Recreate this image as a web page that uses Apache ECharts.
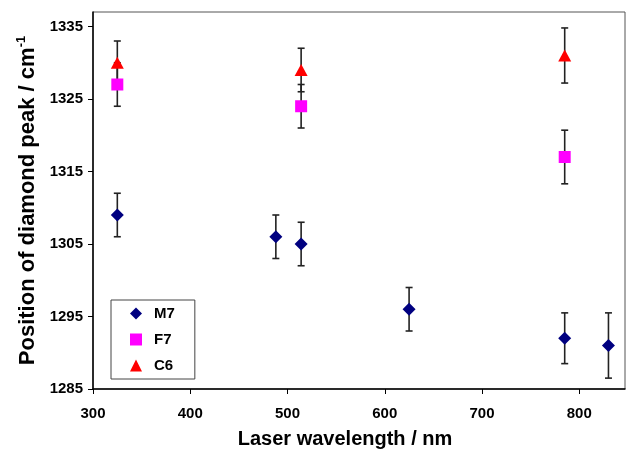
<!DOCTYPE html>
<html>
<head>
<meta charset="utf-8">
<script src="https://cdn.jsdelivr.net/npm/echarts@6/dist/echarts.min.js"></script>
<style>html,body{margin:0;padding:0;background:#fff}#c{width:628px;height:450px}</style>
</head>
<body>
<div id="c"></div>
<script>
// Data
var m7X = [325, 488, 514, 625, 785, 830];
var m7Y = [1309, 1306, 1305, 1296, 1292, 1291];
var m7Err = [3, 3, 3, 3, 3.5, 4.5];
var f7X = [325, 514, 785];
var f7Y = [1327, 1324, 1317];
var f7Err = [3, 3, 3.7];
var c6X = [325, 514, 785];
var c6Y = [1330, 1329, 1331];
var c6Err = [3, 3, 3.8];
var xTicks = [300, 400, 500, 600, 700, 800];
var yTicks = [1285, 1295, 1305, 1315, 1325, 1335];

function pts(xs, ys) { return xs.map(function (x, i) { return [x, ys[i]]; }); }
function errPts(xs, ys, es) { return xs.map(function (x, i) { return [x, ys[i] - es[i], ys[i] + es[i]]; }); }

var errData = [].concat(errPts(m7X, m7Y, m7Err), errPts(f7X, f7Y, f7Err), errPts(c6X, c6Y, c6Err));

var chart = echarts.init(document.getElementById('c'), null, {renderer: 'canvas'});
var FONT = 'Liberation Sans, Arial, sans-serif';
chart.setOption({
  animation: false,
  backgroundColor: '#fff',
  grid: {left: 93, right: 3, top: 12, bottom: 61, containLabel: false, outerBoundsMode: 'none',
    show: true, borderColor: '#555', borderWidth: 1, backgroundColor: 'transparent'},
  legend: {
    orient: 'vertical', left: 111, top: 300,
    padding: [6, 20, 6, 19], itemWidth: 12, itemHeight: 12, itemGap: 11,
    borderColor: '#444', borderWidth: 1,
    textStyle: {fontFamily: FONT, fontWeight: 'bold', fontSize: 15, color: '#000', padding: [0, 0, 0, 7]},
    data: ['M7', 'F7', 'C6']
  },
  xAxis: {
    type: 'value', min: 300, max: 847, interval: 100,
    name: 'Laser wavelength / nm', nameLocation: 'middle', nameGap: 40,
    nameTextStyle: {fontFamily: FONT, fontWeight: 'bold', fontSize: 20, color: '#000', padding: [0, 28, 0, 0]},
    axisLine: {lineStyle: {color: '#000', width: 1.5}},
    axisTick: {length: 5, lineStyle: {color: '#000'}},
    axisLabel: {fontFamily: FONT, fontWeight: 'bold', fontSize: 15, color: '#000', margin: 17, showMaxLabel: false,
      formatter: function (v) { return xTicks.indexOf(v) >= 0 ? String(v) : ''; }},
    splitLine: {show: false}
  },
  yAxis: {
    type: 'value', min: 1285, max: 1337, interval: 10,
    name: '{a|Position of diamond peak / cm}{s|-1}', nameLocation: 'middle', nameGap: 52,
    nameTextStyle: {fontFamily: FONT, fontWeight: 'bold', fontSize: 22, color: '#000',
      rich: {a: {fontFamily: FONT, fontWeight: 'bold', fontSize: 22, color: '#000'},
             s: {fontFamily: FONT, fontWeight: 'bold', fontSize: 13, color: '#000', verticalAlign: 'top', padding: [0, 0, 12, 0]}}},
    axisLine: {show: true, lineStyle: {color: '#000', width: 1.5}},
    axisTick: {show: true, length: 5, lineStyle: {color: '#000'}},
    axisLabel: {fontFamily: FONT, fontWeight: 'bold', fontSize: 15, color: '#000', margin: 10, showMaxLabel: false,
      formatter: function (v) { return yTicks.indexOf(v) >= 0 ? String(v) : ''; }},
    splitLine: {show: false}
  },
  series: [
    {
      type: 'custom', name: 'err', z: 1, silent: true,
      data: errData,
      renderItem: function (params, api) {
        var x = api.value(0);
        var lo = api.coord([x, api.value(1)]);
        var hi = api.coord([x, api.value(2)]);
        var w = 3.5;
        var st = {stroke: '#222', lineWidth: 1.6};
        return {type: 'group', children: [
          {type: 'line', shape: {x1: lo[0], y1: lo[1], x2: hi[0], y2: hi[1]}, style: st},
          {type: 'line', shape: {x1: lo[0] - w, y1: lo[1], x2: lo[0] + w, y2: lo[1]}, style: st},
          {type: 'line', shape: {x1: hi[0] - w, y1: hi[1], x2: hi[0] + w, y2: hi[1]}, style: st}
        ]};
      }
    },
    {type: 'scatter', name: 'M7', z: 3, symbol: 'diamond', symbolSize: 13, itemStyle: {color: '#000080', opacity: 1}, data: pts(m7X, m7Y)},
    {type: 'scatter', name: 'F7', z: 3, symbol: 'rect', symbolSize: 12, itemStyle: {color: '#FF00FF', opacity: 1}, data: pts(f7X, f7Y)},
    {type: 'scatter', name: 'C6', z: 3, symbol: 'triangle', symbolSize: [13, 12], itemStyle: {color: '#FF0000', opacity: 1}, data: pts(c6X, c6Y)}
  ]
});
</script>
</body>
</html>
